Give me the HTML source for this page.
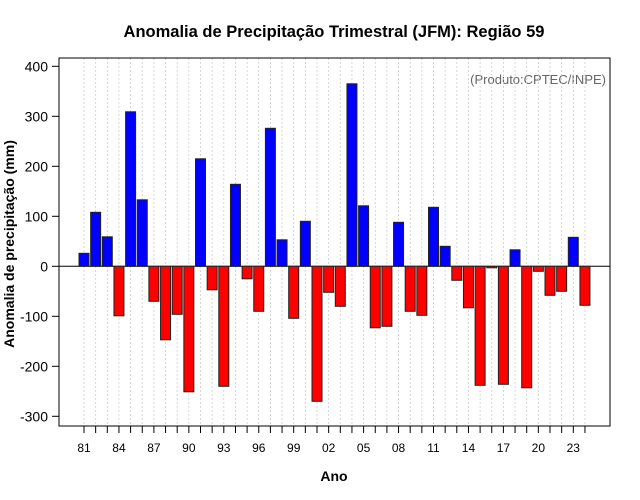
<!DOCTYPE html>
<html><head><meta charset="utf-8"><style>
body{margin:0;background:#fff}
svg{display:block;font-family:"Liberation Sans",Arial,sans-serif}
</style></head><body>
<svg id="c" width="640" height="500">
<text x="334" y="37" text-anchor="middle" font-size="16.5" font-weight="bold">Anomalia de Precipitação Trimestral (JFM): Região 59</text>
<text x="334" y="481" text-anchor="middle" font-size="14" font-weight="bold">Ano</text>
<text transform="translate(14,244) rotate(-90)" text-anchor="middle" font-size="14" font-weight="bold">Anomalia de precipitação (mm)</text>
<text x="606" y="84" text-anchor="end" font-size="13" fill="#666">(Produto:CPTEC/INPE)</text>
<g id="grid"></g><g id="bars"></g><g id="axes"></g>
<rect x="59" y="58" width="551" height="368" fill="none" stroke="#000"/>
</svg>
<script>
const years=[81,82,83,84,85,86,87,88,89,90,91,92,93,94,95,96,97,98,99,0,1,2,3,4,5,6,7,8,9,10,11,12,13,14,15,16,17,18,19,20,21,22,23,24];
const values=[26,108,59,-99,309,133,-70,-147,-96,-251,215,-47,-240,164,-25,-90,276,53,-104,90,-270,-52,-80,365,121,-123,-120,88,-90,-98,118,40,-28,-83,-238,-3,-236,33,-243,-10,-58,-50,58,-78];
const yTicks=[400,300,200,100,0,-100,-200,-300];
const NS='http://www.w3.org/2000/svg';
function mk(t,a,p){const e=document.createElementNS(NS,t);for(const k in a)e.setAttribute(k,a[k]);p.appendChild(e);return e;}
const y=v=>266.3-v*0.5;
const cx=i=>84+i*11.65;
const G=document.getElementById('grid'),B=document.getElementById('bars'),A=document.getElementById('axes');
years.forEach((yr,i)=>{
 const g=mk('line',{x1:cx(i),x2:cx(i),y1:58,y2:426,stroke:'#ccc','stroke-dasharray':'2,2','stroke-width':0.8},G);
 
 
 const t=mk('line',{x1:cx(i),x2:cx(i),y1:426,y2:433,stroke:'#000'},A);
 
 
 if(i%3===0){const l=mk('text',{x:cx(i),y:452,'text-anchor':'middle','font-size':12},A);l.textContent=String(yr).padStart(2,'0');
 
 }
});
mk('line',{x1:59,x2:610,y1:y(0),y2:y(0),stroke:'#000'},B);
values.forEach((v,i)=>{
 const r=mk('rect',{x:cx(i)-5,y:Math.min(y(v),y(0)),width:10,height:Math.abs(y(v)-y(0)),fill:v>=0?'#0000ff':'#ff0000',stroke:'#222','stroke-width':1},B);
 
 
});
yTicks.forEach(v=>{
 const t=mk('line',{x1:52,x2:59,y1:y(v),y2:y(v),stroke:'#000'},A);
 
 
 const l=mk('text',{x:48,y:y(v)+5,'text-anchor':'end','font-size':14},A);l.textContent=v;
 
 
});
</script>
</body></html>
